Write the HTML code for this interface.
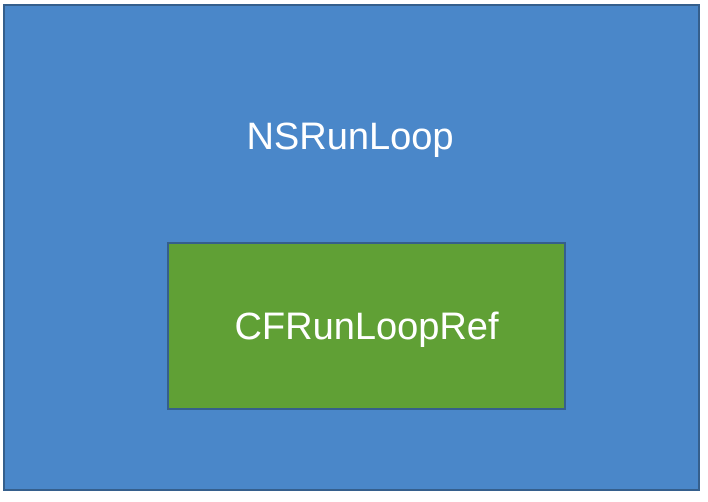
<!DOCTYPE html>
<html><head><style>
body{margin:0;width:708px;height:502px;background:#fff;position:relative;overflow:hidden;font-family:"Liberation Sans",sans-serif}
.o{position:absolute;left:3px;top:4px;width:693px;height:483px;background:#4a87c9;border:2px solid #355f8c}
.g{position:absolute;left:167px;top:242px;width:395px;height:164px;background:#60a035;border:2px solid #355f8c}
.t{position:absolute;color:#fff;font-size:38px;text-align:center}
</style></head><body>
<div class="o"></div>
<div class="g"></div>
<div class="t" style="left:0;width:700px;top:116px">NSRunLoop</div>
<div class="t" style="left:167px;width:399px;top:306px">CFRunLoopRef</div>
</body></html>
